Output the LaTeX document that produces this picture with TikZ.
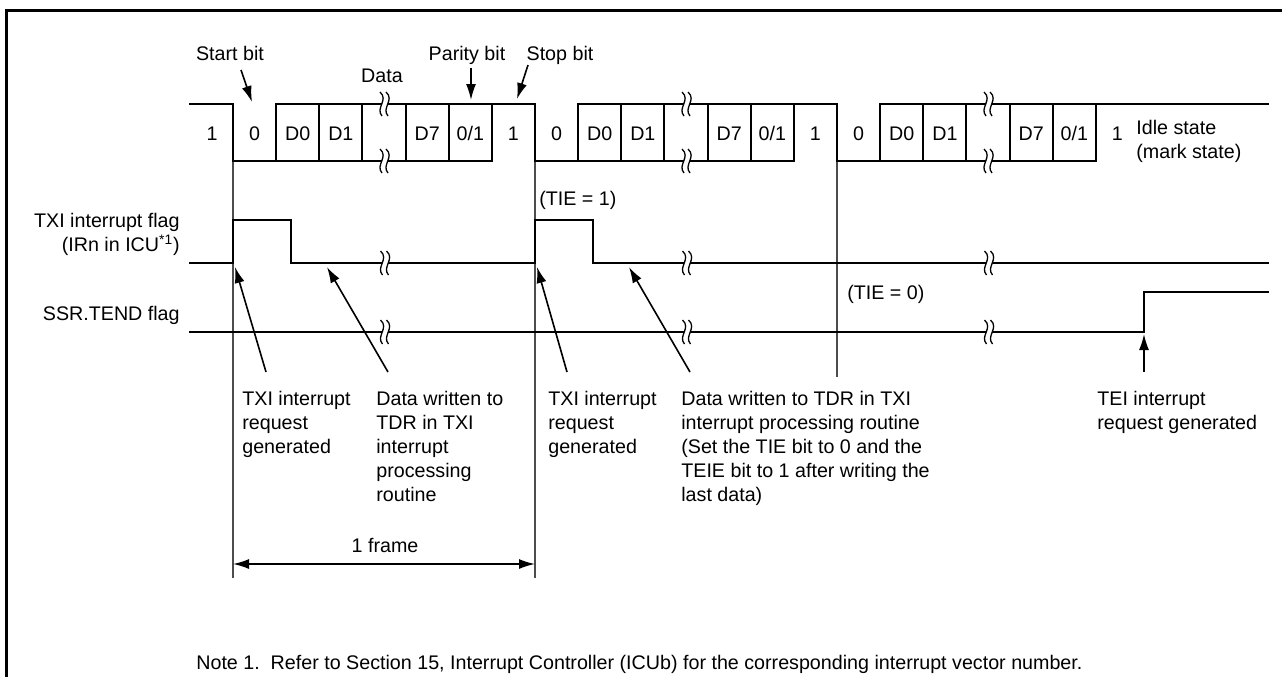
\documentclass[tikz,border=0pt]{standalone}
\usepackage{fontspec}
\setmainfont{Liberation Sans}
\usepackage{tikz}
\usetikzlibrary{arrows.meta,calc}

\newcommand{\wavebreak}[2]{%
  \fill[white] ({#1-4},{#2-12}) .. controls ({#1+5},{#2-4}) and ({#1-9},{#2+4}) .. ({#1-2},{#2+12})
    -- ({#1+4},{#2+12}) .. controls ({#1-3},{#2+4}) and ({#1+11},{#2-4}) .. ({#1+2},{#2-12}) -- cycle;
  \draw[brk] ({#1-4},{#2-12}) .. controls ({#1+5},{#2-4}) and ({#1-9},{#2+4}) .. ({#1-2},{#2+12});
  \draw[brk] ({#1+2},{#2-12}) .. controls ({#1+11},{#2-4}) and ({#1-3},{#2+4}) .. ({#1+4},{#2+12});
}

\begin{document}
\begin{tikzpicture}[
    x=0.2mm, y=-0.2mm,
    lbl/.style={font=\fontsize{11.2}{13.66}\selectfont, inner sep=0pt},
    block/.style={lbl, align=left, anchor=north west},
    wave/.style={line width=0.42mm, line cap=rect},
    guide/.style={line width=0.22mm, black!70},
    ptr/.style={-{Latex[length=3.2mm,width=2mm]}, line width=0.32mm},
    dim/.style={{Latex[length=3.2mm,width=2mm]}-{Latex[length=3.2mm,width=2mm]}, line width=0.32mm},
    brk/.style={line width=0.26mm}
]
    \useasboundingbox (0,0) rectangle (1282,676);
    \draw[line width=0.55mm] (6.3,700) -- (6.3,10.7) -- (1300,10.7);

    \foreach \gx/\gy [count=\i] in {233/578, 535/578, 837/377} {
        \coordinate (g\i) at (\gx,\gy);
        \draw[guide] (\gx,161) -- (g\i);
    }

    \draw[wave] (190,104) -- (233,104);
    \node[lbl, anchor=base] (one0) at (212,140) {1};
    \foreach \fx/\fe [count=\i] in {233/535, 535/837, 837/1268} {
        \draw[wave] ({\fx+43.143},104) -- (\fe,104);
        \draw[wave] (\fx,161) -- ({\fx+6*43.143},161);
        \foreach \k in {0,...,6}
            \draw[wave] ({\fx+\k*43.143},104) -- ({\fx+\k*43.143},161);
        \foreach \k/\t in {0/0, 1/D0, 2/D1, 4/D7, 5/{0/1}, 6/1}
            \node[lbl, anchor=base] (c\i\k) at ({\fx+(\k+0.5)*43.143},140) {\t};
        \wavebreak{\fx+3.5*43.143}{104}
        \wavebreak{\fx+3.5*43.143}{161}
    }
    \node[block] (idle) at (1136,119.6) {Idle state\\(mark state)};

    \node[lbl, anchor=base] (startbit) at (230,60) {Start bit};
    \node[lbl, anchor=base] (data) at (382,82) {Data};
    \node[lbl, anchor=base] (paritybit) at (467,60) {Parity bit};
    \node[lbl, anchor=base] (stopbit) at (560,60) {Stop bit};
    \coordinate (sbA) at (241,70);  \coordinate (sbB) at (252,102);
    \coordinate (pbA) at (471,68);  \coordinate (pbB) at (471,100);
    \coordinate (stA) at (528,65);  \coordinate (stB) at (517,99);
    \draw[ptr] (sbA) -- (sbB);
    \draw[ptr] (pbA) -- (pbB);
    \draw[ptr] (stA) -- (stB);

    \node[lbl, align=right, anchor=north east] (txiflag) at (180,212.6) {TXI interrupt flag\\(IRn in ICU\textsuperscript{*1})};
    \node[lbl, anchor=base east] (tendflag) at (180,320) {SSR.TEND flag};
    \draw[wave] (190,263) -- (233,263) -- (233,220) -- (291,220) -- (291,263) -- (535,263)
        -- (535,220) -- (593,220) -- (593,263) -- (1268,263);
    \draw[wave] (190,332) -- (1144,332) -- (1144,292) -- (1268,292);
    \foreach \bx in {384.5, 686.5, 988.5} {
        \wavebreak{\bx}{263}
        \wavebreak{\bx}{332}
    }
    \node[lbl, anchor=base west] (tie1) at (539,205) {(TIE = 1)};
    \node[lbl, anchor=base west] (tie0) at (847,299) {(TIE = 0)};

    \node[block] (reqA) at (242,390.6) {TXI interrupt\\request\\generated};
    \node[block] (wrA) at (376,390.6) {Data written to\\TDR in TXI\\interrupt\\processing\\routine};
    \node[block] (reqB) at (548,390.6) {TXI interrupt\\request\\generated};
    \node[block] (wrB) at (681,390.6) {Data written to TDR in TXI\\interrupt processing routine\\(Set the TIE bit to 0 and the\\TEIE bit to 1 after writing the\\last data)};
    \node[block] (tei) at (1097,390.6) {TEI interrupt\\request generated};

    \coordinate (rA) at (266,372);  \coordinate (rA') at (235,267);
    \coordinate (wA) at (388,372);  \coordinate (wA') at (327,267);
    \coordinate (rB) at (567,372);  \coordinate (rB') at (537,267);
    \coordinate (wB) at (690,372);  \coordinate (wB') at (629,267);
    \coordinate (tE) at (1144,372); \coordinate (tE') at (1144,334);
    \draw[ptr] (rA) -- (rA');
    \draw[ptr] (wA) -- (wA');
    \draw[ptr] (rB) -- (rB');
    \draw[ptr] (wB) -- (wB');
    \draw[ptr] (tE) -- (tE');

    \node[lbl, anchor=base] (frame) at (385,552) {1 frame};
    \coordinate (fl) at (233,564);
    \coordinate (fr) at (535,564);
    \draw[dim] (fl) -- (fr);

    \node[lbl, anchor=base west] (note) at (196,669) {Note 1.\ \ Refer to Section 15, Interrupt Controller (ICUb) for the corresponding interrupt vector number.};
\end{tikzpicture}
\end{document}
